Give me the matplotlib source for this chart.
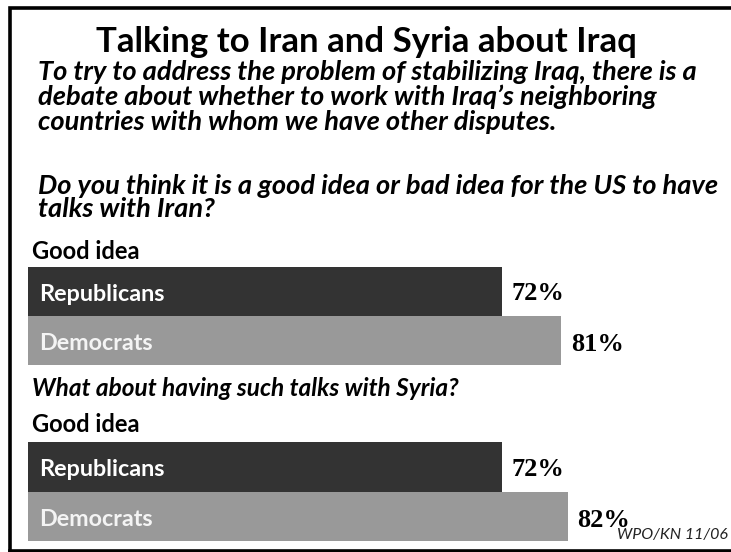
import matplotlib
matplotlib.use("Agg")
import numpy as np
from matplotlib import pyplot as plt

W, H = 731, 552

title = "Talking to Iran and Syria about Iraq"
intro_lines = ["To try to address the problem of stabilizing Iraq, there is a",
               "debate about whether to work with Iraq\u2019s neighboring",
               "countries with whom we have other disputes."]
question_iran = ["Do you think it is a good idea or bad idea for the US to have",
                 "talks with Iran?"]
question_syria = "What about having such talks with Syria?"
answer_label = "Good idea"
parties = ["Republicans", "Democrats"]
iran_good = [72, 81]
syria_good = [72, 82]
source = "WPO/KN 11/06"

bar_colors = ["#333333", "#999999"]
name_colors = ["#ffffff", "#f4f4f4"]
sans = "Lato"
serif = "Liberation Serif"


def put(x, y, s, **kw):
    # x, y in pixels from the top left corner
    fig.text(x / W, 1 - y / H, s, **kw)


def bar_block(top, bottom, values):
    # value axis 0..100 runs from pixel x 28 to 686
    x0, x1 = 28, 686
    ax = fig.add_axes([x0 / W, 1 - bottom / H, (x1 - x0) / W, (bottom - top) / H])
    ypos = np.arange(len(values))
    ax.barh(ypos, values, height=1.0, color=bar_colors, edgecolor="none")
    ax.set_xlim(0, 100)
    ax.set_ylim(len(values) - 0.5, -0.5)
    ax.axis("off")
    for i, (name, v) in enumerate(zip(parties, values)):
        ax.text(1.67, i + 0.19, name, color=name_colors[i], fontsize=16.8,
                fontweight="bold", family=sans, va="baseline", ha="left")
        ax.text(v + 1.5, i + 0.18 + 0.04 * i, f"{v}%", color="black",
                fontsize=19, fontweight="bold", family=serif,
                va="baseline", ha="left")
    return ax


fig = plt.figure(figsize=(W / 100, H / 100), dpi=100)
fig.patch.set_facecolor("white")

# frame, open on the right
frame = fig.add_axes([0, 0, 1, 1])
frame.set_xlim(0, W)
frame.set_ylim(H, 0)
frame.axis("off")
frame.plot([9.7, 9.7, W + 5], [551, 7.6, 7.6], color="black", lw=2.6,
           solid_joinstyle="miter")
frame.plot([9.7, W + 5], [550.6, 550.6], color="black", lw=2.6)

put(366, 51.7, title, ha="center", va="baseline", fontsize=25,
    fontweight="bold", family=sans)
# multi-line texts: baseline anchor is the last line
put(38, 130, "\n".join(intro_lines), ha="left", va="baseline", fontsize=19.6,
    fontweight="bold", style="italic", family=sans, linespacing=1.03)
put(38, 217, "\n".join(question_iran), ha="left", va="baseline", fontsize=19.6,
    fontweight="bold", style="italic", family=sans, linespacing=0.96)
put(32, 259, answer_label, ha="left", va="baseline", fontsize=17,
    fontweight="bold", family=sans)
bar_block(267, 365, iran_good)

put(32, 395.7, question_syria, ha="left", va="baseline", fontsize=17.6,
    fontweight="bold", style="italic", family=sans)
put(32, 431.7, answer_label, ha="left", va="baseline", fontsize=17,
    fontweight="bold", family=sans)
bar_block(442, 541, syria_good)

put(728, 539.3, source, ha="right", va="baseline", fontsize=11.5,
    style="italic", family=sans, color="#222222")

fig.savefig("out.png", dpi=100)
